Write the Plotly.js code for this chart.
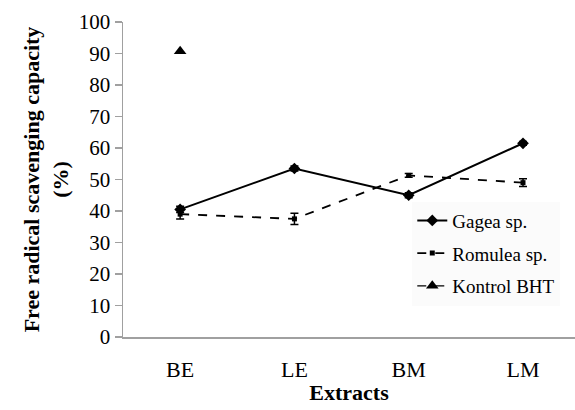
<!DOCTYPE html>
<html><head><meta charset="utf-8">
<script src="https://cdn.plot.ly/plotly-3.0.1.min.js"></script>
<style>html,body{margin:0;padding:0;background:#fff}#chart{width:575px;height:410px}</style>
</head><body><div id="chart"></div>
<script>
const categories = ["BE", "LE", "BM", "LM"];
const gagea = [40.5, 53.5, 45, 61.5];
const gageaErr = [1, 0.8, 0.8, 0.6];
const romulea = [39, 37.5, 51.3, 49];
const romuleaErr = [1.5, 1.8, 0.6, 1.2];
const kontrolCats = ["BE"];
const kontrol = [90.7];
const yTicks = [0,10,20,30,40,50,60,70,80,90,100];

const font = "Liberation Serif";
const traces = [
  {x: categories, y: gagea, name: "Gagea sp.", type: "scatter", mode: "lines+markers",
   legendgroup: "a",
   line: {color: "#000", width: 2}, marker: {symbol: "diamond", size: 9, color: "#000"},
   error_y: {type: "data", array: gageaErr, visible: true, color: "#000", thickness: 1.5, width: 4}},
  {x: categories, y: romulea, name: "Romulea sp.", type: "scatter", mode: "lines+markers",
   legendgroup: "b",
   line: {color: "#000", width: 1.8, dash: "dash"}, marker: {symbol: "square", size: 5, color: "#000"},
   error_y: {type: "data", array: romuleaErr, visible: true, color: "#000", thickness: 1.5, width: 4}},
  {x: kontrolCats, y: kontrol, name: "Kontrol BHT", type: "scatter", mode: "lines+markers",
   legendgroup: "c",
   line: {color: "#000", width: 1.2, dash: "dash"}, marker: {symbol: "triangle-up", size: 11, color: "#000"}}
];
const layout = {
  width: 575, height: 410,
  margin: {l: 123, r: 0, t: 22, b: 73},
  paper_bgcolor: "#fff", plot_bgcolor: "#fff",
  font: {family: font, size: 18, color: "#000"},
  showlegend: true,
  legend: {x: 0.64, y: 0.43, xanchor: "left", yanchor: "top", bgcolor: "#fbfbfb",
           traceorder: "grouped", tracegroupgap: 5, font: {family: font, size: 19, color: "#000"}},
  xaxis: {type: "category", range: [-0.5, 3.455], showgrid: false, zeroline: false,
          showline: true, linecolor: "#a0a0a0", linewidth: 1.5, ticks: "",
          tickfont: {family: font, size: 22, color: "#000"}, ticklabelstandoff: 12,
          title: {text: "<b>Extracts</b>", font: {family: font, size: 22, color: "#000"}, standoff: 3}},
  yaxis: {range: [0, 100], tickvals: yTicks, showgrid: false, zeroline: false,
          showline: true, linecolor: "#a0a0a0", linewidth: 1.5, ticks: "outside", ticklen: 7,
          tickcolor: "#a0a0a0", tickwidth: 1.5, tickfont: {family: font, size: 21, color: "#000"},
          ticksuffix: "\u00a0\u00a0",
          title: {text: "<b>Free radical scavenging capacity<br>(%)</b>", font: {family: font, size: 22, color: "#000"}, standoff: 4}}
};
Plotly.newPlot("chart", traces, layout, {displayModeBar: false, staticPlot: true});
</script></body></html>
